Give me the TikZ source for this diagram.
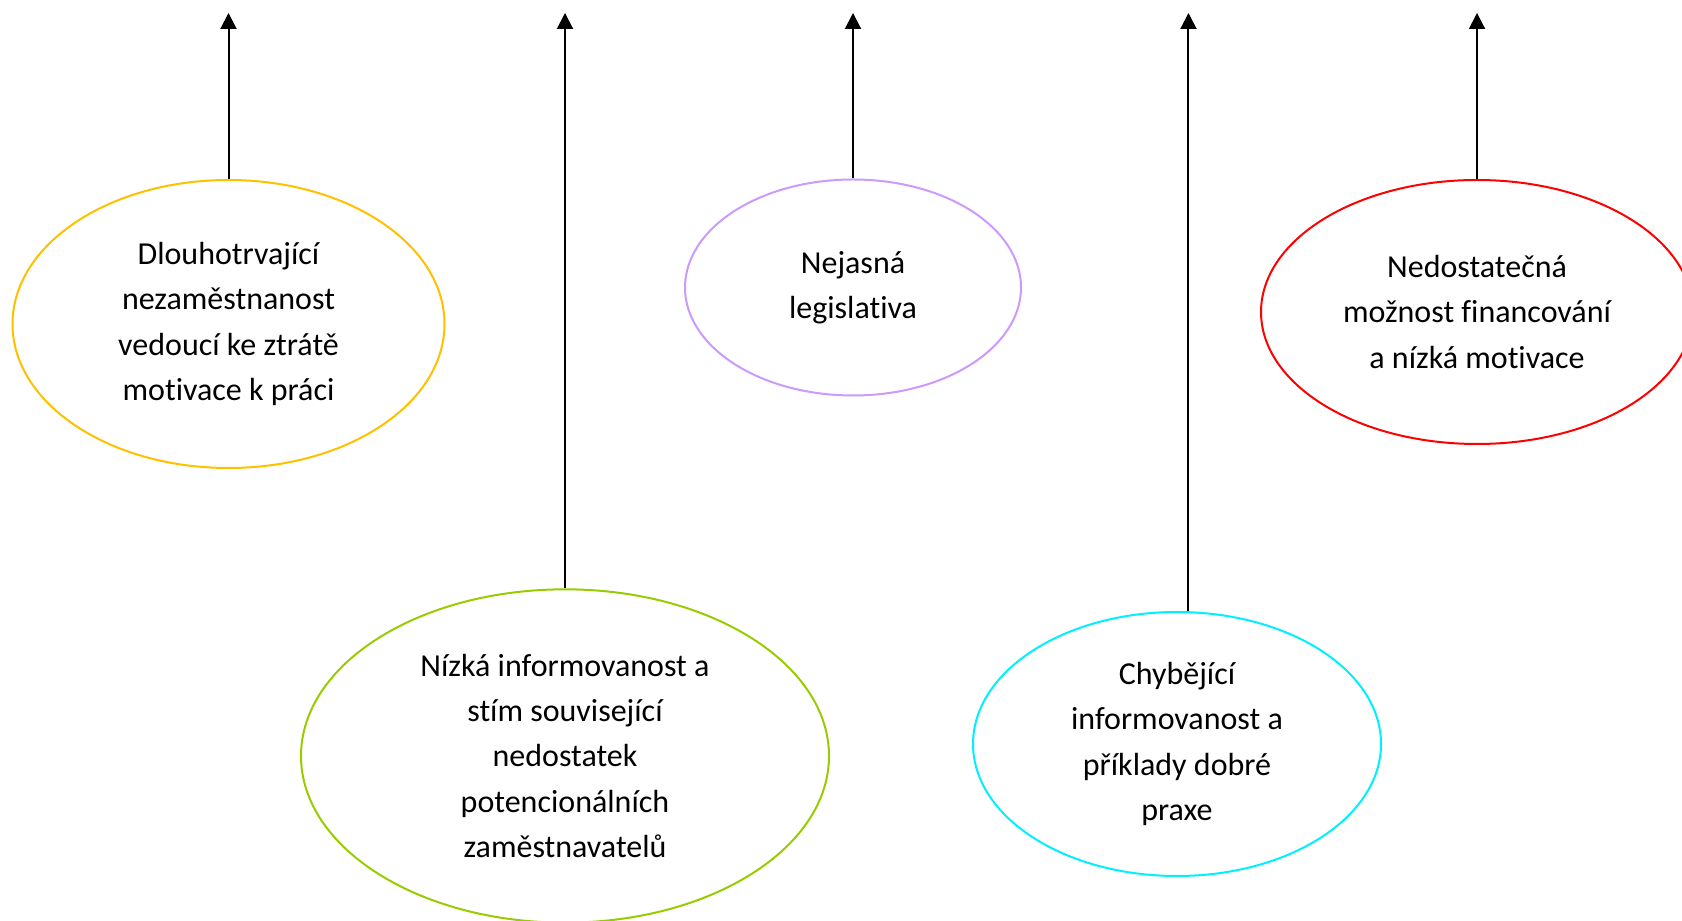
\documentclass[tikz,border=0pt]{standalone}
\usepackage{fontspec}
\setmainfont{Carlito}[RawFeature={-liga;-clig;-dlig;-calt}]
\usetikzlibrary{arrows.meta,positioning,shapes}
\definecolor{causeyellow}{HTML}{FFC000}
\definecolor{causegreen}{HTML}{99CC00}
\definecolor{causepurple}{HTML}{CC99FF}
\definecolor{causecyan}{HTML}{00F0FF}
\definecolor{causered}{HTML}{FF0000}
\tikzstyle{cause}=[
  ellipse,
  line width=0.75pt,
  align=center,
  inner sep=0pt,
  font={\fontsize{12}{16.9}\selectfont},
]
\tikzstyle{arrow}=[
  draw=black,
  line width=0.75pt,
  -{Triangle[length=6pt,width=6pt]},
]
\begin{document}
\begin{tikzpicture}[x=0.375pt,y=0.375pt]
  \useasboundingbox (0,0) rectangle (1682,920);
  % ellipses
  \node (dlouho) [cause, draw=causeyellow, minimum width=162pt, minimum height=108pt] at (228.5,596)
    {Dlouhotrvající\\nezaměstnanost\\vedoucí ke ztrátě\\motivace k práci};
  \node (nizka) [cause, draw=causegreen, minimum width=198pt, minimum height=125pt] at (565,164)
    {Nízká informovanost a\\stím související\\nedostatek\\potencionálních\\zaměstnavatelů};
  \node (nejasna) [cause, draw=causepurple, minimum width=126pt, minimum height=81pt] at (853,632.5)
    {Nejasná\\legislativa};
  \node (chybi) [cause, draw=causecyan, minimum width=153pt, minimum height=99pt] at (1177,176)
    {Chybějící\\informovanost a\\příklady dobré\\praxe};
  \node (financ) [cause, draw=causered, minimum width=162pt, minimum height=99pt] at (1477,608)
    {Nedostatečná\\možnost financování\\a nízká motivace};
  % arrow ends
  \coordinate (dlouhotop) at (dlouho.north |- 0,907);
  \coordinate (nizkatop) at (nizka.north |- 0,907);
  \coordinate (nejasnatop) at (nejasna.north |- 0,907);
  \coordinate (chybifoot) at ([xshift=4.3pt]chybi.north);
  \coordinate (chybitop) at (chybifoot |- 0,907);
  \coordinate (financtop) at (financ.north |- 0,907);
  \draw [arrow] (dlouho.north) -- (dlouhotop);
  \draw [arrow] (nizka.north) -- (nizkatop);
  \draw [arrow] (nejasna.north) -- (nejasnatop);
  \draw [arrow] (chybifoot) -- (chybitop);
  \draw [arrow] (financ.north) -- (financtop);
\end{tikzpicture}
\end{document}
